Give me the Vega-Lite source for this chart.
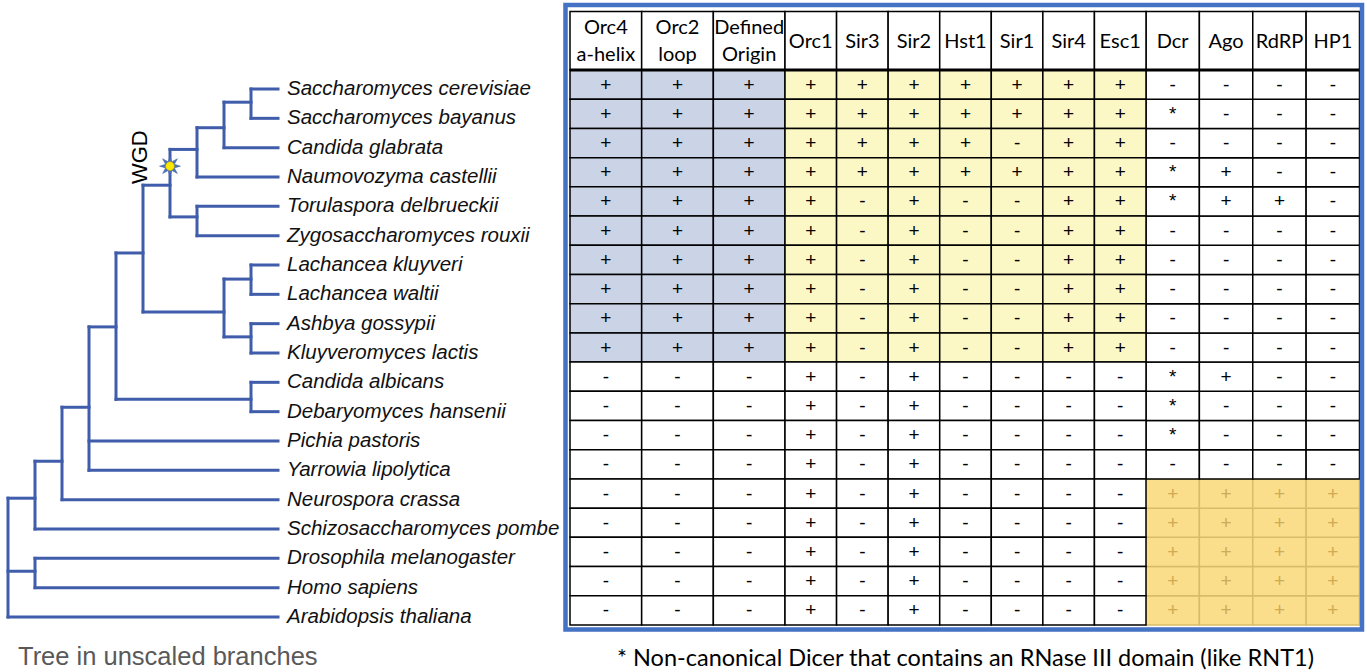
{
  "$schema": "https://vega.github.io/schema/vega-lite/v6.json",
  "width": 1367,
  "height": 672,
  "autosize": "none",
  "padding": 0,
  "background": "white",
  "config": {"view": {"stroke": null}},
  "datasets": {
    "species": [
      {"sp": "Saccharomyces cerevisiae", "clade": "Saccharomycetaceae", "row": 0, "Orc4": "+", "Orc2": "+", "Origin": "+", "Orc1": "+", "Sir3": "+", "Sir2": "+", "Hst1": "+", "Sir1": "+", "Sir4": "+", "Esc1": "+", "Dcr": "-", "Ago": "-", "RdRP": "-", "HP1": "-"},
      {"sp": "Saccharomyces bayanus", "clade": "Saccharomycetaceae", "row": 1, "Orc4": "+", "Orc2": "+", "Origin": "+", "Orc1": "+", "Sir3": "+", "Sir2": "+", "Hst1": "+", "Sir1": "+", "Sir4": "+", "Esc1": "+", "Dcr": "*", "Ago": "-", "RdRP": "-", "HP1": "-"},
      {"sp": "Candida glabrata", "clade": "Saccharomycetaceae", "row": 2, "Orc4": "+", "Orc2": "+", "Origin": "+", "Orc1": "+", "Sir3": "+", "Sir2": "+", "Hst1": "+", "Sir1": "-", "Sir4": "+", "Esc1": "+", "Dcr": "-", "Ago": "-", "RdRP": "-", "HP1": "-"},
      {"sp": "Naumovozyma castellii", "clade": "Saccharomycetaceae", "row": 3, "Orc4": "+", "Orc2": "+", "Origin": "+", "Orc1": "+", "Sir3": "+", "Sir2": "+", "Hst1": "+", "Sir1": "+", "Sir4": "+", "Esc1": "+", "Dcr": "*", "Ago": "+", "RdRP": "-", "HP1": "-"},
      {"sp": "Torulaspora delbrueckii", "clade": "Saccharomycetaceae", "row": 4, "Orc4": "+", "Orc2": "+", "Origin": "+", "Orc1": "+", "Sir3": "-", "Sir2": "+", "Hst1": "-", "Sir1": "-", "Sir4": "+", "Esc1": "+", "Dcr": "*", "Ago": "+", "RdRP": "+", "HP1": "-"},
      {"sp": "Zygosaccharomyces rouxii", "clade": "Saccharomycetaceae", "row": 5, "Orc4": "+", "Orc2": "+", "Origin": "+", "Orc1": "+", "Sir3": "-", "Sir2": "+", "Hst1": "-", "Sir1": "-", "Sir4": "+", "Esc1": "+", "Dcr": "-", "Ago": "-", "RdRP": "-", "HP1": "-"},
      {"sp": "Lachancea kluyveri", "clade": "Saccharomycetaceae", "row": 6, "Orc4": "+", "Orc2": "+", "Origin": "+", "Orc1": "+", "Sir3": "-", "Sir2": "+", "Hst1": "-", "Sir1": "-", "Sir4": "+", "Esc1": "+", "Dcr": "-", "Ago": "-", "RdRP": "-", "HP1": "-"},
      {"sp": "Lachancea waltii", "clade": "Saccharomycetaceae", "row": 7, "Orc4": "+", "Orc2": "+", "Origin": "+", "Orc1": "+", "Sir3": "-", "Sir2": "+", "Hst1": "-", "Sir1": "-", "Sir4": "+", "Esc1": "+", "Dcr": "-", "Ago": "-", "RdRP": "-", "HP1": "-"},
      {"sp": "Ashbya gossypii", "clade": "Saccharomycetaceae", "row": 8, "Orc4": "+", "Orc2": "+", "Origin": "+", "Orc1": "+", "Sir3": "-", "Sir2": "+", "Hst1": "-", "Sir1": "-", "Sir4": "+", "Esc1": "+", "Dcr": "-", "Ago": "-", "RdRP": "-", "HP1": "-"},
      {"sp": "Kluyveromyces lactis", "clade": "Saccharomycetaceae", "row": 9, "Orc4": "+", "Orc2": "+", "Origin": "+", "Orc1": "+", "Sir3": "-", "Sir2": "+", "Hst1": "-", "Sir1": "-", "Sir4": "+", "Esc1": "+", "Dcr": "-", "Ago": "-", "RdRP": "-", "HP1": "-"},
      {"sp": "Candida albicans", "clade": "Saccharomycotina", "row": 10, "Orc4": "-", "Orc2": "-", "Origin": "-", "Orc1": "+", "Sir3": "-", "Sir2": "+", "Hst1": "-", "Sir1": "-", "Sir4": "-", "Esc1": "-", "Dcr": "*", "Ago": "+", "RdRP": "-", "HP1": "-"},
      {"sp": "Debaryomyces hansenii", "clade": "Saccharomycotina", "row": 11, "Orc4": "-", "Orc2": "-", "Origin": "-", "Orc1": "+", "Sir3": "-", "Sir2": "+", "Hst1": "-", "Sir1": "-", "Sir4": "-", "Esc1": "-", "Dcr": "*", "Ago": "-", "RdRP": "-", "HP1": "-"},
      {"sp": "Pichia pastoris", "clade": "Saccharomycotina", "row": 12, "Orc4": "-", "Orc2": "-", "Origin": "-", "Orc1": "+", "Sir3": "-", "Sir2": "+", "Hst1": "-", "Sir1": "-", "Sir4": "-", "Esc1": "-", "Dcr": "*", "Ago": "-", "RdRP": "-", "HP1": "-"},
      {"sp": "Yarrowia lipolytica", "clade": "Saccharomycotina", "row": 13, "Orc4": "-", "Orc2": "-", "Origin": "-", "Orc1": "+", "Sir3": "-", "Sir2": "+", "Hst1": "-", "Sir1": "-", "Sir4": "-", "Esc1": "-", "Dcr": "-", "Ago": "-", "RdRP": "-", "HP1": "-"},
      {"sp": "Neurospora crassa", "clade": "outgroup", "row": 14, "Orc4": "-", "Orc2": "-", "Origin": "-", "Orc1": "+", "Sir3": "-", "Sir2": "+", "Hst1": "-", "Sir1": "-", "Sir4": "-", "Esc1": "-", "Dcr": "+", "Ago": "+", "RdRP": "+", "HP1": "+"},
      {"sp": "Schizosaccharomyces pombe", "clade": "outgroup", "row": 15, "Orc4": "-", "Orc2": "-", "Origin": "-", "Orc1": "+", "Sir3": "-", "Sir2": "+", "Hst1": "-", "Sir1": "-", "Sir4": "-", "Esc1": "-", "Dcr": "+", "Ago": "+", "RdRP": "+", "HP1": "+"},
      {"sp": "Drosophila melanogaster", "clade": "outgroup", "row": 16, "Orc4": "-", "Orc2": "-", "Origin": "-", "Orc1": "+", "Sir3": "-", "Sir2": "+", "Hst1": "-", "Sir1": "-", "Sir4": "-", "Esc1": "-", "Dcr": "+", "Ago": "+", "RdRP": "+", "HP1": "+"},
      {"sp": "Homo sapiens", "clade": "outgroup", "row": 17, "Orc4": "-", "Orc2": "-", "Origin": "-", "Orc1": "+", "Sir3": "-", "Sir2": "+", "Hst1": "-", "Sir1": "-", "Sir4": "-", "Esc1": "-", "Dcr": "+", "Ago": "+", "RdRP": "+", "HP1": "+"},
      {"sp": "Arabidopsis thaliana", "clade": "outgroup", "row": 18, "Orc4": "-", "Orc2": "-", "Origin": "-", "Orc1": "+", "Sir3": "-", "Sir2": "+", "Hst1": "-", "Sir1": "-", "Sir4": "-", "Esc1": "-", "Dcr": "+", "Ago": "+", "RdRP": "+", "HP1": "+"}
    ],
    "genes": [
      {"g": "Orc4", "set": "origin", "label": ["Orc4", "a-helix"]},
      {"g": "Orc2", "set": "origin", "label": ["Orc2", "loop"]},
      {"g": "Origin", "set": "origin", "label": ["Defined", "Origin"]},
      {"g": "Orc1", "set": "silencing", "label": "Orc1"},
      {"g": "Sir3", "set": "silencing", "label": "Sir3"},
      {"g": "Sir2", "set": "silencing", "label": "Sir2"},
      {"g": "Hst1", "set": "silencing", "label": "Hst1"},
      {"g": "Sir1", "set": "silencing", "label": "Sir1"},
      {"g": "Sir4", "set": "silencing", "label": "Sir4"},
      {"g": "Esc1", "set": "silencing", "label": "Esc1"},
      {"g": "Dcr", "set": "rnai", "label": "Dcr"},
      {"g": "Ago", "set": "rnai", "label": "Ago"},
      {"g": "RdRP", "set": "rnai", "label": "RdRP"},
      {"g": "HP1", "set": "rnai", "label": "HP1"}
    ],
    "tree": [
      {"x": 9, "x2": 10, "y": 0, "y2": 0}, {"x": 9, "x2": 10, "y": 1, "y2": 1},
      {"x": 8, "x2": 10, "y": 2, "y2": 2}, {"x": 7, "x2": 10, "y": 3, "y2": 3},
      {"x": 7, "x2": 10, "y": 4, "y2": 4}, {"x": 7, "x2": 10, "y": 5, "y2": 5},
      {"x": 9, "x2": 10, "y": 6, "y2": 6}, {"x": 9, "x2": 10, "y": 7, "y2": 7},
      {"x": 9, "x2": 10, "y": 8, "y2": 8}, {"x": 9, "x2": 10, "y": 9, "y2": 9},
      {"x": 9, "x2": 10, "y": 10, "y2": 10}, {"x": 9, "x2": 10, "y": 11, "y2": 11},
      {"x": 3, "x2": 10, "y": 12, "y2": 12}, {"x": 3, "x2": 10, "y": 13, "y2": 13},
      {"x": 2, "x2": 10, "y": 14, "y2": 14}, {"x": 1, "x2": 10, "y": 15, "y2": 15},
      {"x": 1, "x2": 10, "y": 16, "y2": 16}, {"x": 1, "x2": 10, "y": 17, "y2": 17},
      {"x": 0, "x2": 10, "y": 18, "y2": 18},
      {"x": 8, "x2": 9, "y": 0.45, "y2": 0.45}, {"x": 7, "x2": 8, "y": 1.32, "y2": 1.32},
      {"x": 6, "x2": 7, "y": 2.06, "y2": 2.06}, {"x": 6, "x2": 7, "y": 4.36, "y2": 4.36},
      {"x": 5, "x2": 6, "y": 3.28, "y2": 3.28}, {"x": 8, "x2": 9, "y": 6.48, "y2": 6.48},
      {"x": 8, "x2": 9, "y": 8.45, "y2": 8.45}, {"x": 5, "x2": 8, "y": 7.6, "y2": 7.6},
      {"x": 4, "x2": 5, "y": 5.59, "y2": 5.59}, {"x": 4, "x2": 9, "y": 10.58, "y2": 10.58},
      {"x": 3, "x2": 4, "y": 8.11, "y2": 8.11}, {"x": 2, "x2": 3, "y": 10.85, "y2": 10.85},
      {"x": 1, "x2": 2, "y": 12.69, "y2": 12.69}, {"x": 0, "x2": 1, "y": 13.95, "y2": 13.95},
      {"x": 0, "x2": 1, "y": 16.44, "y2": 16.44},
      {"x": 9, "x2": 9, "y": 0, "y2": 1}, {"x": 8, "x2": 8, "y": 0.45, "y2": 2},
      {"x": 7, "x2": 7, "y": 1.32, "y2": 3}, {"x": 7, "x2": 7, "y": 4, "y2": 5},
      {"x": 6, "x2": 6, "y": 2.06, "y2": 4.36}, {"x": 9, "x2": 9, "y": 6, "y2": 7},
      {"x": 9, "x2": 9, "y": 8, "y2": 9}, {"x": 8, "x2": 8, "y": 6.48, "y2": 8.45},
      {"x": 5, "x2": 5, "y": 3.28, "y2": 7.6}, {"x": 9, "x2": 9, "y": 10, "y2": 11},
      {"x": 4, "x2": 4, "y": 5.59, "y2": 10.58}, {"x": 3, "x2": 3, "y": 8.11, "y2": 13},
      {"x": 2, "x2": 2, "y": 10.85, "y2": 14}, {"x": 1, "x2": 1, "y": 12.69, "y2": 15},
      {"x": 1, "x2": 1, "y": 16, "y2": 17}, {"x": 0, "x2": 0, "y": 13.95, "y2": 18}
    ],
    "events": [{"label": "WGD", "depth": 6, "row": 2.63}],
    "notes": [
      {"id": "tree", "text": "Tree in unscaled branches"},
      {"id": "foot", "text": "* Non-canonical Dicer that contains an RNase III domain (like RNT1)"}
    ]
  },
  "layer": [
    {
      "layer": [
        {
          "data": {"name": "tree"},
          "mark": {"type": "rule", "color": "#3F5DAB", "strokeWidth": 3, "strokeCap": "square"},
          "encoding": {
            "x": {"field": "x", "type": "quantitative", "scale": {"domain": [0, 10], "range": [8, 278], "zero": false, "nice": false}, "axis": null},
            "x2": {"field": "x2"},
            "y": {"field": "y", "type": "quantitative", "scale": {"domain": [0, 18], "range": [89, 617], "zero": false, "nice": false}, "axis": null},
            "y2": {"field": "y2"}
          }
        },
        {
          "data": {"name": "species"},
          "mark": {"type": "text", "align": "left", "baseline": "middle", "dx": 9, "font": "Liberation Sans", "fontStyle": "italic", "fontSize": 20.5, "color": "#111111"},
          "encoding": {
            "x": {"datum": 10, "type": "quantitative", "scale": {"domain": [0, 10], "range": [8, 278], "zero": false, "nice": false}, "axis": null},
            "y": {"field": "row", "type": "quantitative", "scale": {"domain": [0, 18], "range": [89, 617], "zero": false, "nice": false}, "axis": null},
            "text": {"field": "sp"}
          }
        },
        {
          "data": {"name": "events"},
          "mark": {"type": "point", "shape": "M1,0L0.416,0.172L0.707,0.707L0.172,0.416L0,1L-0.172,0.416L-0.707,0.707L-0.416,0.172L-1,0L-0.416,-0.172L-0.707,-0.707L-0.172,-0.416L0,-1L0.172,-0.416L0.707,-0.707L0.416,-0.172Z", "filled": true, "fill": "#4E74B4", "stroke": "#3F5DAB", "strokeWidth": 0.5, "opacity": 1, "size": 440},
          "encoding": {
            "x": {"field": "depth", "type": "quantitative", "scale": {"domain": [0, 10], "range": [8, 278], "zero": false, "nice": false}, "axis": null},
            "y": {"field": "row", "type": "quantitative", "scale": {"domain": [0, 18], "range": [89, 617], "zero": false, "nice": false}, "axis": null}
          }
        },
        {
          "data": {"name": "events"},
          "mark": {"type": "point", "shape": "circle", "filled": true, "fill": "#FFE800", "stroke": "#B8A800", "strokeWidth": 0.5, "opacity": 1, "size": 75},
          "encoding": {
            "x": {"field": "depth", "type": "quantitative", "scale": {"domain": [0, 10], "range": [8, 278], "zero": false, "nice": false}, "axis": null},
            "y": {"field": "row", "type": "quantitative", "scale": {"domain": [0, 18], "range": [89, 617], "zero": false, "nice": false}, "axis": null}
          }
        },
        {
          "data": {"name": "events"},
          "mark": {"type": "text", "angle": 270, "align": "center", "baseline": "middle", "dx": 9, "dy": -30, "font": "Liberation Sans", "fontSize": 22, "color": "#000000"},
          "encoding": {
            "x": {"field": "depth", "type": "quantitative", "scale": {"domain": [0, 10], "range": [8, 278], "zero": false, "nice": false}, "axis": null},
            "y": {"field": "row", "type": "quantitative", "scale": {"domain": [0, 18], "range": [89, 617], "zero": false, "nice": false}, "axis": null},
            "text": {"field": "label"}
          }
        },
        {
          "data": {"name": "notes"},
          "transform": [{"filter": "datum.id === 'tree'"}],
          "mark": {"type": "text", "align": "left", "baseline": "middle", "dx": 10, "dy": 40, "font": "Liberation Sans", "fontSize": 25.5, "color": "#595959"},
          "encoding": {
            "x": {"datum": 0, "type": "quantitative", "scale": {"domain": [0, 10], "range": [8, 278], "zero": false, "nice": false}, "axis": null},
            "y": {"datum": 18, "type": "quantitative", "scale": {"domain": [0, 18], "range": [89, 617], "zero": false, "nice": false}, "axis": null},
            "text": {"field": "text"}
          }
        }
      ]
    },
    {
      "layer": [
        {
          "data": {"name": "species"},
          "transform": [{"fold": ["Dcr", "Ago", "RdRP", "HP1"], "as": ["g", "v"]}],
          "mark": {"type": "rect", "strokeWidth": 1.5},
          "encoding": {
            "x": {"field": "g", "type": "nominal", "scale": {"domain": ["Dcr", "Ago", "RdRP", "HP1"], "range": [1146, 1359.5], "paddingInner": 0, "paddingOuter": 0}, "axis": null},
            "y": {"field": "sp", "type": "nominal", "scale": {"domain": ["h1", "h2", "Saccharomyces cerevisiae", "Saccharomyces bayanus", "Candida glabrata", "Naumovozyma castellii", "Torulaspora delbrueckii", "Zygosaccharomyces rouxii", "Lachancea kluyveri", "Lachancea waltii", "Ashbya gossypii", "Kluyveromyces lactis", "Candida albicans", "Debaryomyces hansenii", "Pichia pastoris", "Yarrowia lipolytica", "Neurospora crassa", "Schizosaccharomyces pombe", "Drosophila melanogaster", "Homo sapiens", "Arabidopsis thaliana"], "range": [11.6, 625], "paddingInner": 0, "paddingOuter": 0}, "axis": null},
            "fill": {"field": "clade", "type": "nominal", "scale": {"domain": ["Saccharomycetaceae", "Saccharomycotina", "outgroup"], "range": ["#FFFFFF", "#FFFFFF", "#FADE8C"]}, "legend": null},
            "stroke": {"condition": {"test": "datum.clade === 'outgroup'", "value": "#D9BC6A"}, "value": "#000000"},
            "order": {"field": "row", "type": "quantitative", "sort": "descending"}
          }
        },
        {
          "data": {"name": "species"},
          "transform": [{"fold": ["Dcr", "Ago", "RdRP", "HP1"], "as": ["g", "v"]}],
          "mark": {"type": "text", "baseline": "middle", "font": "Liberation Sans", "fontSize": 19},
          "encoding": {
            "x": {"field": "g", "type": "nominal", "scale": {"domain": ["Dcr", "Ago", "RdRP", "HP1"], "range": [1146, 1359.5], "paddingInner": 0, "paddingOuter": 0}, "axis": null},
            "y": {"field": "sp", "type": "nominal", "axis": null},
            "text": {"field": "v"},
            "color": {"condition": {"test": "datum.clade === 'outgroup'", "value": "#CFAB52"}, "value": "#000000"}
          }
        },
        {
          "data": {"name": "genes"},
          "transform": [{"filter": "datum.set === 'rnai'"}],
          "mark": {"type": "rect", "fill": "#FFFFFF", "stroke": "#000000", "strokeWidth": 1.5},
          "encoding": {
            "x": {"field": "g", "type": "nominal", "axis": null},
            "y": {"datum": "h1", "type": "nominal", "bandPosition": 0, "axis": null},
            "y2": {"datum": "h2", "bandPosition": 1}
          }
        },
        {
          "data": {"name": "genes"},
          "transform": [{"filter": "datum.set === 'rnai'"}],
          "mark": {"type": "text", "baseline": "middle", "dy": 1, "font": "Lato", "fontSize": 20, "lineHeight": 27, "color": "#000000"},
          "encoding": {
            "x": {"field": "g", "type": "nominal", "axis": null},
            "y": {"datum": "h2", "type": "nominal", "bandPosition": 0, "axis": null},
            "text": {"field": "label"}
          }
        },
        {
          "data": {"name": "genes"},
          "transform": [{"filter": "datum.set === 'rnai'"}],
          "mark": {"type": "rule", "color": "#000000", "strokeWidth": 3},
          "encoding": {
            "x": {"field": "g", "type": "nominal", "bandPosition": 0, "axis": null},
            "x2": {"field": "g", "bandPosition": 1},
            "y": {"datum": "Saccharomyces cerevisiae", "type": "nominal", "bandPosition": 0, "axis": null}
          }
        }
      ]
    },
    {
      "layer": [
        {
          "data": {"name": "species"},
          "transform": [{"fold": ["Orc4", "Orc2", "Origin"], "as": ["g", "v"]}],
          "mark": {"type": "rect", "strokeWidth": 1.5, "stroke": "#000000"},
          "encoding": {
            "x": {"field": "g", "type": "nominal", "scale": {"domain": ["Orc4", "Orc2", "Origin"], "range": [570, 785], "paddingInner": 0, "paddingOuter": 0}, "axis": null},
            "y": {"field": "sp", "type": "nominal", "scale": {"domain": ["h1", "h2", "Saccharomyces cerevisiae", "Saccharomyces bayanus", "Candida glabrata", "Naumovozyma castellii", "Torulaspora delbrueckii", "Zygosaccharomyces rouxii", "Lachancea kluyveri", "Lachancea waltii", "Ashbya gossypii", "Kluyveromyces lactis", "Candida albicans", "Debaryomyces hansenii", "Pichia pastoris", "Yarrowia lipolytica", "Neurospora crassa", "Schizosaccharomyces pombe", "Drosophila melanogaster", "Homo sapiens", "Arabidopsis thaliana"], "range": [11.6, 625], "paddingInner": 0, "paddingOuter": 0}, "axis": null},
            "fill": {"field": "clade", "type": "nominal", "scale": {"domain": ["Saccharomycetaceae", "Saccharomycotina", "outgroup"], "range": ["#CBD3E6", "#FFFFFF", "#FFFFFF"]}, "legend": null}
          }
        },
        {
          "data": {"name": "species"},
          "transform": [{"fold": ["Orc4", "Orc2", "Origin"], "as": ["g", "v"]}],
          "mark": {"type": "text", "baseline": "middle", "font": "Liberation Sans", "fontSize": 19, "color": "#000000"},
          "encoding": {
            "x": {"field": "g", "type": "nominal", "axis": null},
            "y": {"field": "sp", "type": "nominal", "axis": null},
            "text": {"field": "v"}
          }
        },
        {
          "data": {"name": "genes"},
          "transform": [{"filter": "datum.set === 'origin'"}],
          "mark": {"type": "rect", "fill": "#FFFFFF", "stroke": "#000000", "strokeWidth": 1.5},
          "encoding": {
            "x": {"field": "g", "type": "nominal", "axis": null},
            "y": {"datum": "h1", "type": "nominal", "bandPosition": 0, "axis": null},
            "y2": {"datum": "h2", "bandPosition": 1}
          }
        },
        {
          "data": {"name": "genes"},
          "transform": [{"filter": "datum.set === 'origin'"}],
          "mark": {"type": "text", "baseline": "middle", "dy": -13, "font": "Lato", "fontSize": 20, "lineHeight": 27, "color": "#000000"},
          "encoding": {
            "x": {"field": "g", "type": "nominal", "axis": null},
            "y": {"datum": "h2", "type": "nominal", "bandPosition": 0, "axis": null},
            "text": {"field": "label"}
          }
        },
        {
          "data": {"name": "genes"},
          "transform": [{"filter": "datum.set === 'origin'"}],
          "mark": {"type": "rule", "color": "#000000", "strokeWidth": 3},
          "encoding": {
            "x": {"field": "g", "type": "nominal", "bandPosition": 0, "axis": null},
            "x2": {"field": "g", "bandPosition": 1},
            "y": {"datum": "Saccharomyces cerevisiae", "type": "nominal", "bandPosition": 0, "axis": null}
          }
        }
      ]
    },
    {
      "layer": [
        {
          "data": {"name": "species"},
          "transform": [{"fold": ["Orc1", "Sir3", "Sir2", "Hst1", "Sir1", "Sir4", "Esc1"], "as": ["g", "v"]}],
          "mark": {"type": "rect", "strokeWidth": 1.5, "stroke": "#000000"},
          "encoding": {
            "x": {"field": "g", "type": "nominal", "scale": {"domain": ["Orc1", "Sir3", "Sir2", "Hst1", "Sir1", "Sir4", "Esc1"], "range": [785, 1146], "paddingInner": 0, "paddingOuter": 0}, "axis": null},
            "y": {"field": "sp", "type": "nominal", "scale": {"domain": ["h1", "h2", "Saccharomyces cerevisiae", "Saccharomyces bayanus", "Candida glabrata", "Naumovozyma castellii", "Torulaspora delbrueckii", "Zygosaccharomyces rouxii", "Lachancea kluyveri", "Lachancea waltii", "Ashbya gossypii", "Kluyveromyces lactis", "Candida albicans", "Debaryomyces hansenii", "Pichia pastoris", "Yarrowia lipolytica", "Neurospora crassa", "Schizosaccharomyces pombe", "Drosophila melanogaster", "Homo sapiens", "Arabidopsis thaliana"], "range": [11.6, 625], "paddingInner": 0, "paddingOuter": 0}, "axis": null},
            "fill": {"field": "clade", "type": "nominal", "scale": {"domain": ["Saccharomycetaceae", "Saccharomycotina", "outgroup"], "range": ["#FCF8C6", "#FFFFFF", "#FFFFFF"]}, "legend": null}
          }
        },
        {
          "data": {"name": "species"},
          "transform": [{"fold": ["Orc1", "Sir3", "Sir2", "Hst1", "Sir1", "Sir4", "Esc1"], "as": ["g", "v"]}],
          "mark": {"type": "text", "baseline": "middle", "font": "Liberation Sans", "fontSize": 19, "color": "#000000"},
          "encoding": {
            "x": {"field": "g", "type": "nominal", "axis": null},
            "y": {"field": "sp", "type": "nominal", "axis": null},
            "text": {"field": "v"}
          }
        },
        {
          "data": {"name": "genes"},
          "transform": [{"filter": "datum.set === 'silencing'"}],
          "mark": {"type": "rect", "fill": "#FFFFFF", "stroke": "#000000", "strokeWidth": 1.5},
          "encoding": {
            "x": {"field": "g", "type": "nominal", "axis": null},
            "y": {"datum": "h1", "type": "nominal", "bandPosition": 0, "axis": null},
            "y2": {"datum": "h2", "bandPosition": 1}
          }
        },
        {
          "data": {"name": "genes"},
          "transform": [{"filter": "datum.set === 'silencing'"}],
          "mark": {"type": "text", "baseline": "middle", "dy": 1, "font": "Lato", "fontSize": 20, "lineHeight": 27, "color": "#000000"},
          "encoding": {
            "x": {"field": "g", "type": "nominal", "axis": null},
            "y": {"datum": "h2", "type": "nominal", "bandPosition": 0, "axis": null},
            "text": {"field": "label"}
          }
        },
        {
          "data": {"name": "genes"},
          "transform": [{"filter": "datum.set === 'silencing'"}],
          "mark": {"type": "rule", "color": "#000000", "strokeWidth": 3},
          "encoding": {
            "x": {"field": "g", "type": "nominal", "bandPosition": 0, "axis": null},
            "x2": {"field": "g", "bandPosition": 1},
            "y": {"datum": "Saccharomyces cerevisiae", "type": "nominal", "bandPosition": 0, "axis": null}
          }
        },
        {
          "data": {"name": "notes"},
          "transform": [{"filter": "datum.id === 'foot'"}],
          "mark": {"type": "text", "align": "center", "baseline": "middle", "dy": 49, "font": "Lato", "fontSize": 23.5, "color": "#000000"},
          "encoding": {
            "x": {"datum": "Hst1", "type": "nominal", "axis": null},
            "y": {"datum": "Arabidopsis thaliana", "type": "nominal", "axis": null},
            "text": {"field": "text"}
          }
        }
      ]
    },
    {
      "data": {"values": [{"frame": "table"}]},
      "mark": {"type": "rect", "fillOpacity": 0, "stroke": "#4472C4", "strokeWidth": 4.5},
      "encoding": {
        "x": {"field": "frame", "type": "nominal", "scale": {"domain": ["table"], "range": [565.5, 1362], "paddingInner": 0, "paddingOuter": 0}, "axis": null},
        "y": {"field": "frame", "type": "nominal", "scale": {"domain": ["table"], "range": [5, 629.5], "paddingInner": 0, "paddingOuter": 0}, "axis": null}
      }
    }
  ],
  "resolve": {"scale": {"x": "independent", "y": "independent", "fill": "independent", "color": "independent", "stroke": "independent"}}
}
